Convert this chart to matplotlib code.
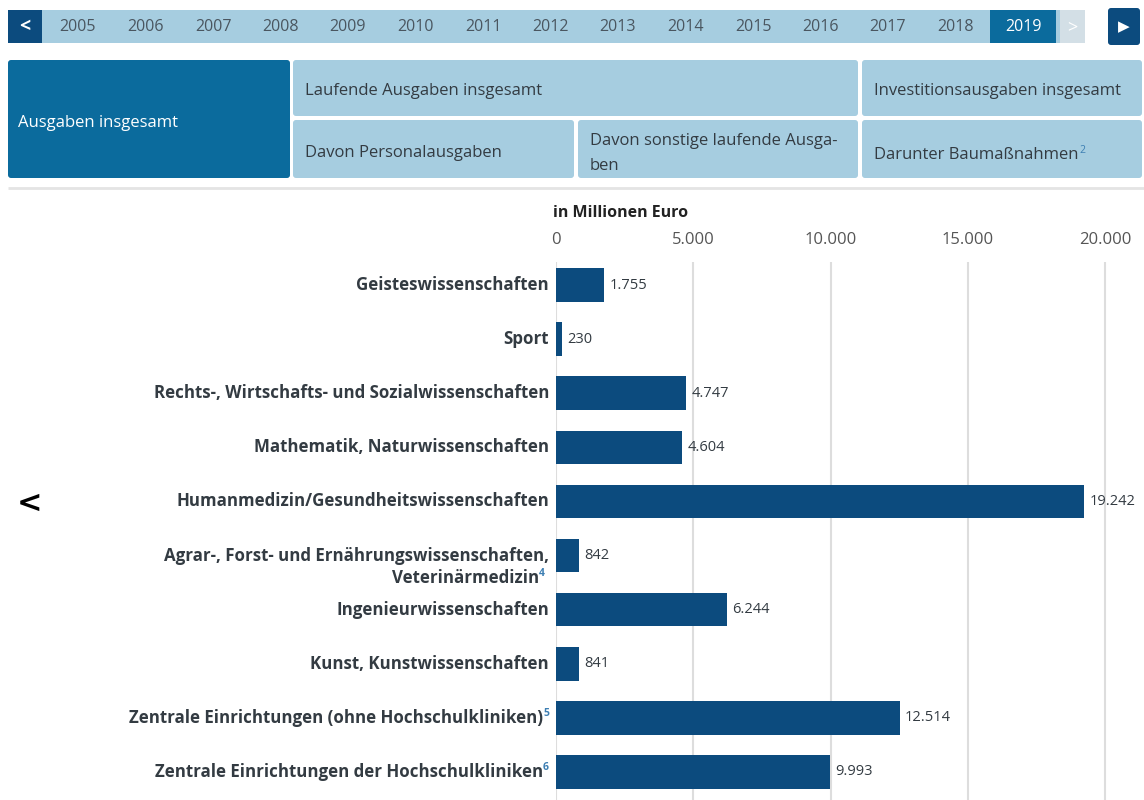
import matplotlib
matplotlib.use("Agg")
import matplotlib.pyplot as plt
from matplotlib.patches import FancyBboxPatch, Rectangle

plt.rcParams["font.family"] = ["Open Sans", "DejaVu Sans"]

# Daten: Ausgaben insgesamt 2019, in Millionen Euro
kategorien = [
    "Geisteswissenschaften",
    "Sport",
    "Rechts-, Wirtschafts- und Sozialwissenschaften",
    "Mathematik, Naturwissenschaften",
    "Humanmedizin/Gesundheitswissenschaften",
    "Agrar-, Forst- und Ernährungswissenschaften,\nVeterinärmedizin",
    "Ingenieurwissenschaften",
    "Kunst, Kunstwissenschaften",
    "Zentrale Einrichtungen (ohne Hochschulkliniken)",
    "Zentrale Einrichtungen der Hochschulkliniken",
]
fussnoten = ["", "", "", "", "", "4", "", "", "5", "6"]
werte = [1755, 230, 4747, 4604, 19242, 842, 6244, 841, 12514, 9993]
ticks = [0, 5000, 10000, 15000, 20000]
jahre = list(range(2005, 2020))
aktives_jahr = 2019

NAVY = "#0c4b7e"
AKTIV = "#0b6b9d"
HELL = "#a6cde0"
TEXT = "#333b42"
SUP = "#3d7fb3"


def de(v):
    return f"{v:,}".replace(",", ".")


W, H = 1144, 800
fig = plt.figure(figsize=(W / 100, H / 100), dpi=100)

# Hintergrund-Ebene in Pixelkoordinaten fuer die Navigationselemente
bg = fig.add_axes([0, 0, 1, 1])
bg.set_xlim(0, W)
bg.set_ylim(H, 0)
bg.axis("off")


def box(x0, y0, x1, y1, color, r=3):
    bg.add_patch(FancyBboxPatch((x0 + r, y0 + r), x1 - x0 - 2 * r, y1 - y0 - 2 * r,
                                boxstyle=f"round,pad={r}", fc=color, ec="none"))


# Jahresleiste
bg.add_patch(Rectangle((42, 10), 1018, 33, fc=HELL, ec="none"))
bg.add_patch(Rectangle((8, 10), 34, 33, fc=NAVY, ec="none"))
bg.text(25, 27, "<", color="white", fontsize=14, fontweight="bold", ha="center", va="center")
bg.add_patch(Rectangle((1060, 10), 25, 33, fc="#d3dfe6", ec="none"))
bg.text(1072, 27, ">", color="white", fontsize=13, ha="center", va="center")
box(1108, 8, 1140, 45, NAVY)
bg.text(1124, 27, "▶", color="white", fontsize=11, ha="center", va="center",
        family="DejaVu Sans")
for i, j in enumerate(jahre):
    xc = 78 + i * 67.5
    if j == aktives_jahr:
        bg.add_patch(Rectangle((xc - 33, 10), 66, 33, fc=AKTIV, ec="none"))
        bg.text(xc, 27, str(j), color="white", fontsize=11.5, ha="center", va="center")
    else:
        bg.text(xc, 27, str(j), color="#4a5660", fontsize=11.5, ha="center", va="center")

# Reiter
FS_TAB = 12
box(8, 60, 290, 178, AKTIV)
bg.text(18, 123, "Ausgaben insgesamt", color="white", fontsize=FS_TAB, va="center")
box(293, 60, 858, 116, HELL)
bg.text(305, 91, "Laufende Ausgaben insgesamt", color=TEXT, fontsize=FS_TAB, va="center")
box(862, 60, 1142, 116, HELL)
bg.text(874, 91, "Investitionsausgaben insgesamt", color=TEXT, fontsize=FS_TAB, va="center")
box(293, 120, 574, 178, HELL)
bg.text(305, 153, "Davon Personalausgaben", color=TEXT, fontsize=FS_TAB, va="center")
box(578, 120, 858, 178, HELL)
bg.text(590, 141, "Davon sonstige laufende Ausga-", color=TEXT, fontsize=FS_TAB, va="center")
bg.text(590, 166, "ben", color=TEXT, fontsize=FS_TAB, va="center")
box(862, 120, 1142, 178, HELL)
t = bg.text(874, 155, "Darunter Baumaßnahmen", color=TEXT, fontsize=FS_TAB, va="center")
bg.plot([8, W], [188, 188], color="#e4e4e4", lw=2, solid_capstyle="butt")

bg.text(30, 503, "<", color="black", fontsize=22, fontweight="bold", ha="center",
        va="center", family="DejaVu Sans")

fig.text(553 / W, 1 - 213 / H, "in Millionen Euro", fontsize=11.5, fontweight="bold",
         color="#222222", va="center")

# Balkendiagramm
px_per = (1105 - 556) / 20000
ax = fig.add_axes([556 / W, 0, (1140 - 556) / W, 1 - 262 / H])
ax.set_xlim(0, (1140 - 556) / px_per)
sp = 54.1
ax.set_ylim(9 + (800 - 772) / sp, -(285 - 262) / sp)
pos = list(range(len(werte)))
bars = ax.barh(pos, werte, height=0.62, color=NAVY, zorder=3)
ax.set_xticks(ticks)
ax.set_xticklabels([de(v) for v in ticks])
ax.xaxis.tick_top()
ax.tick_params(axis="x", length=0, pad=10, labelsize=12, labelcolor="#555555")
ax.tick_params(axis="y", left=False, labelleft=False)
ax.grid(axis="x", color="#dddddd", lw=1.5, zorder=0)
for s in ax.spines.values():
    s.set_visible(False)

for p, v in zip(pos, werte):
    ax.annotate(de(v), xy=(v, p), xytext=(5, 0), textcoords="offset pixels",
                va="center", fontsize=10.5, color=TEXT)

fig.canvas.draw()
# Fussnote am Reiter
bb = t.get_window_extent()
bg.annotate("2", xy=(0, 0), xycoords=t, xytext=(bb.width + 1, bb.height + 2),
            textcoords="offset pixels", fontsize=7.5, color=SUP, va="top")


def label(p, text, sup, dy=0, dx=-7):
    xoff = dx
    if sup:
        st = ax.annotate(sup, xy=(0, p), xycoords=("axes fraction", "data"),
                         xytext=(dx, dy + 4), textcoords="offset pixels", ha="right",
                         va="center", fontsize=7.5, fontweight="bold", color=SUP)
        fig.canvas.draw()
        xoff = dx - st.get_window_extent().width
    ax.annotate(text, xy=(0, p), xycoords=("axes fraction", "data"),
                xytext=(xoff, dy), textcoords="offset pixels", ha="right",
                va="center", fontsize=12.2, fontweight="bold", color=TEXT)


for p, k, f in zip(pos, kategorien, fussnoten):
    if "\n" in k:
        z1, z2 = k.split("\n")
        label(p, z1, "", dy=0)
        label(p, z2, f, dy=-22, dx=-11)
    else:
        label(p, k, f)

fig.savefig("out.png", dpi=100)
